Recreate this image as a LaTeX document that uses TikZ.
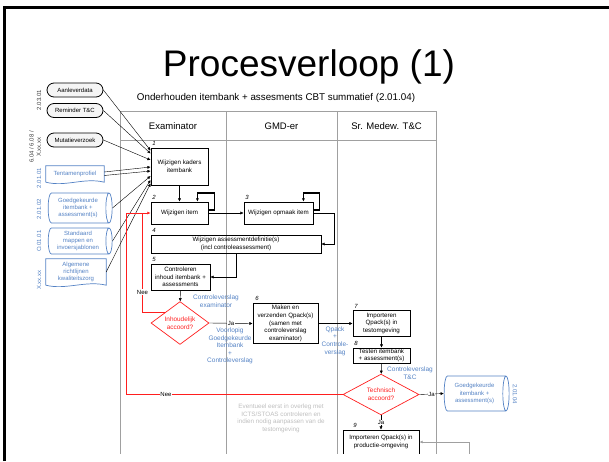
\documentclass[tikz,border=0pt]{standalone}
\usepackage{fontspec}
\setmainfont{Liberation Sans}
\usetikzlibrary{shapes.geometric,shapes.misc,arrows.meta,calc}
\definecolor{laneGray}{RGB}{160,160,160}
\definecolor{noteBlue}{RGB}{84,130,196}
\definecolor{decRed}{RGB}{255,30,30}
\definecolor{noteGray}{RGB}{190,190,190}

\begin{document}
\begin{tikzpicture}[x=1pt,y=-1pt,>={Latex[length=3.2pt,width=3pt]},
  proc/.style={draw,line width=0.8pt,align=center,inner sep=0.5pt,font=\fontsize{6.2}{7.6}\selectfont},
  inp/.style={rounded rectangle,draw,line width=0.8pt,fill=gray!8,minimum width=58,minimum height=14,inner sep=1pt,font=\fontsize{6}{7}\selectfont},
  docbox/.style={align=center,inner sep=0.5pt,text=noteBlue,font=\fontsize{6}{7.2}\selectfont},
  store/.style={cylinder,draw=noteBlue,line width=0.7pt,aspect=0.3,align=center,inner sep=0.5pt,text=noteBlue,font=\fontsize{6}{7.2}\selectfont},
  decision/.style={diamond,draw=decRed,line width=0.7pt,inner sep=0pt,align=center,text=decRed,font=\fontsize{6.4}{7.6}\selectfont},
  sidelab/.style={rotate=90,align=center,inner sep=0pt,font=\fontsize{6}{7.2}\selectfont},
  steplab/.style={inner sep=0pt,font=\itshape\fontsize{6}{7}\selectfont},
  bluenote/.style={align=center,inner sep=0pt,text=noteBlue,font=\fontsize{6.5}{7.6}\selectfont},
  answer/.style={fill=white,inner sep=0.6pt,font=\fontsize{6}{7}\selectfont},
  lane/.style={draw=laneGray,line width=0.9pt},
  redline/.style={draw=decRed,line width=0.9pt},
  loopline/.style={line width=1.3pt}]

\useasboundingbox (0,0) rectangle (609,461);

% Frame and titles
\draw[line width=2.5pt] (4.5,461) |- (609,7.5);
\node[anchor=base,inner sep=0pt] (title) at (309,76) {\fontsize{37}{40}\selectfont Procesverloop (1)};
\node[anchor=base,inner sep=0pt] (subtitle) at (276,100) {\fontsize{9.8}{11}\selectfont Onderhouden itembank + assesments CBT summatief (2.01.04)};

% Swimlanes
\draw[lane] (120,111) -- (436,111);
\draw[lane] (120,140) -- (436,140);
\foreach \x in {120,226,337,436}
  \draw[lane] (\x,111) -- (\x,454);
\node[font=\fontsize{9.5}{11}\selectfont] (hexam) at (173,126) {Examinator};
\node[font=\fontsize{9.5}{11}\selectfont] (hgmd) at (281.5,126) {GMD-er};
\node[font=\fontsize{9.5}{11}\selectfont] (hsr) at (386.5,126) {Sr. Medew. T\&C};

% Inputs
\node[inp] (aanl) at (75,90) {Aanleverdata};
\node[inp] (remi) at (75,110.5) {Reminder T\&C};
\node[inp] (muta) at (75,140) {Mutatieverzoek};
\node[docbox,minimum width=58,minimum height=16] (tent) at (75,174) {Tentamenprofiel};
\draw[noteBlue,line width=0.7pt] (tent.south west) |- (tent.north east) -- (tent.south east)
  .. controls ($(tent.south east)+(-20,-5)$) and ($(tent.south west)+(20,5)$) .. (tent.south west);
\node[store,minimum height=64,minimum width=30] (goed) at (78,208) {Goedgekeurde\\itembank +\\assessment(s)};
\node[store,minimum height=64,minimum width=26] (stan) at (78,241) {Standaard\\mappen en\\invoersjablonen};
\node[docbox,minimum width=60,minimum height=26] (alg) at (76,272) {Algemene\\richtlijnen\\kwaliteitszorg};
\draw[noteBlue,line width=0.7pt] (alg.south west) |- (alg.north east) -- (alg.south east)
  .. controls ($(alg.south east)+(-20,-5)$) and ($(alg.south west)+(20,5)$) .. (alg.south west);

% Codes next to the inputs
\node[sidelab,text=darkgray] (c1) at (39,100) {2.03.01};
\node[sidelab,text=darkgray] (c2) at (35,147) {6.04 / 6.08 /\\X.xx.xx};
\node[sidelab,text=noteBlue] (c3) at (39,178) {2.01.01};
\node[sidelab,text=noteBlue] (c4) at (39,209) {2.01.02};
\node[sidelab,text=noteBlue] (c5) at (39,241) {O.01.01};
\node[sidelab,text=noteBlue] (c6) at (39,280) {X.xx.xx};
\node[sidelab,rotate=180,text=noteBlue] (c7) at (515,394) {2.01.04};

% Process steps
\node[proc,minimum width=57,minimum height=37] (kad1) at (179.5,166.5) {Wijzigen kaders\\itembank};
\node[proc,minimum width=57,minimum height=22] (wij2) at (179.5,213) {Wijzigen item};
\node[proc,minimum width=69,minimum height=22] (opm3) at (278.5,213) {Wijzigen opmaak item};
\node[proc,minimum width=170,minimum height=18] (def4) at (236,244) {Wijzigen assessmentdefinitie(s)\\(incl controleassessment)};
\node[proc,minimum width=59,minimum height=26] (con5) at (180.5,277) {Controleren\\inhoud itembank +\\assessments};
\node[decision,minimum width=58,minimum height=40] (inh) at (180,323) {Inhoudelijk\\accoord?};
\node[proc,minimum width=65,minimum height=40] (mak6) at (285.5,323.5) {Maken en\\verzenden Qpack(s)\\(samen met\\controleverslag\\examinator)};
\node[proc,minimum width=57,minimum height=26] (imp7) at (381.5,323.5) {Importeren\\Qpack(s) in\\testomgeving};
\node[proc,minimum width=57,minimum height=15] (tst8) at (381.5,355.5) {Testen itembank\\+ assessment(s)};
\node[decision,minimum width=76,minimum height=35] (tech) at (381,394.5) {Technisch\\accoord?};
\node[store,minimum height=65,minimum width=35] (gk) at (474.5,393.5) {Goedgekeurde\\itembank +\\assessment(s)};
\begin{scope}
  \clip (0,0) rectangle (609,453.5);
  \node[proc,minimum width=76,minimum height=24] (imp9) at (381,442) {Importeren Qpack(s) in\\productie-omgeving};
\end{scope}

% Step numbers
\node[steplab] (n1) at (154,143) {1};
\node[steplab] (n2) at (154,197) {2};
\node[steplab] (n3) at (247,197) {3};
\node[steplab] (n4) at (154,230) {4};
\node[steplab] (n5) at (154,259) {5};
\node[steplab] (n6) at (257,298) {6};
\node[steplab] (n7) at (356,306) {7};
\node[steplab] (n8) at (356,343) {8};
\node[steplab] (n9) at (355,425) {9};

% Inputs into step 1
\draw[->] (aanl.east) -- ([yshift=16pt]kad1.west);
\draw[->] (remi.east) -- ([yshift=13pt]kad1.west);
\draw[->] (muta.east) -- ([yshift=6.5pt]kad1.west);
\draw[->] ([yshift=2pt]tent.east) -- ([yshift=-0.5pt]kad1.west);
\draw[->] ([yshift=-1.5pt]tent.east) -- ([yshift=-4.5pt]kad1.west);
\draw[->] (goed.east) -- ([yshift=-9.5pt]kad1.west);
\draw[->] (stan.east) -- ([yshift=-13.5pt]kad1.west);
\draw[->] (alg.east) -- ([yshift=-17pt]kad1.west);

% Flow
\draw[->] (kad1) -- (wij2);
\draw[->] (wij2) -- (opm3);
\draw[loopline,->] ([yshift=3pt]wij2.east) -| ++(6,-17) -| ([xshift=-11pt]wij2.north east);
\draw[loopline,->] ([yshift=3pt]opm3.east) -| ++(6,-17) -| ([xshift=-10pt]opm3.north east);
\draw[->] (opm3.east) -- ++(21,0) |- (def4.east);
\draw[->] (def4.south) |- (con5.east);
\draw[->] (con5) -- (inh);
\draw[->] (inh.east) -- node[answer] (ja1) {Ja} (mak6.west);
\draw[->] (mak6) -- (imp7);
\draw[->] (imp7) -- (tst8);
\draw[->] (tst8) -- (tech);
\draw[->] (tech.east) -- node[answer] (ja2) {Ja} (gk.west);
\draw[->] (tech.south) -- node[answer] (ja3) {Ja} (imp9.north);
\coordinate (offpage) at (469,453.5);
\draw[laneGray,line width=0.8pt,->] (offpage) |- (imp9.east);

% Rejections back to step 2
\draw[redline,->] (inh.north west) -- ++(-23,0) |- (wij2.west);
\draw[redline] (tech.west) -| (126,213) -- (142.5,213);
\node[answer] (nee1) at (142.5,292) {Nee};
\node[answer] (nee2) at (166,394.5) {Nee};

% Notes
\node[bluenote] (cvex) at (216,301) {Controleverslag\\examinator};
\node[bluenote] (vgi) at (230,346) {Voorlopig\\Goedgekeurde\\Itembank\\+\\Controleverslag};
\node[bluenote] (qpk) at (335,341) {Qpack\\+\\Controle-\\verslag};
\node[bluenote] (cvtc) at (410,373) {Controleverslag\\T\&C};
\node[align=center,inner sep=0pt,text=noteGray,font=\fontsize{6.3}{7.7}\selectfont] (evt) at (281,418.5)
  {Eventueel eerst in overleg met\\ICTS/STOAS controleren en\\indien nodig aanpassen van de\\testomgeving};

\end{tikzpicture}
\end{document}
